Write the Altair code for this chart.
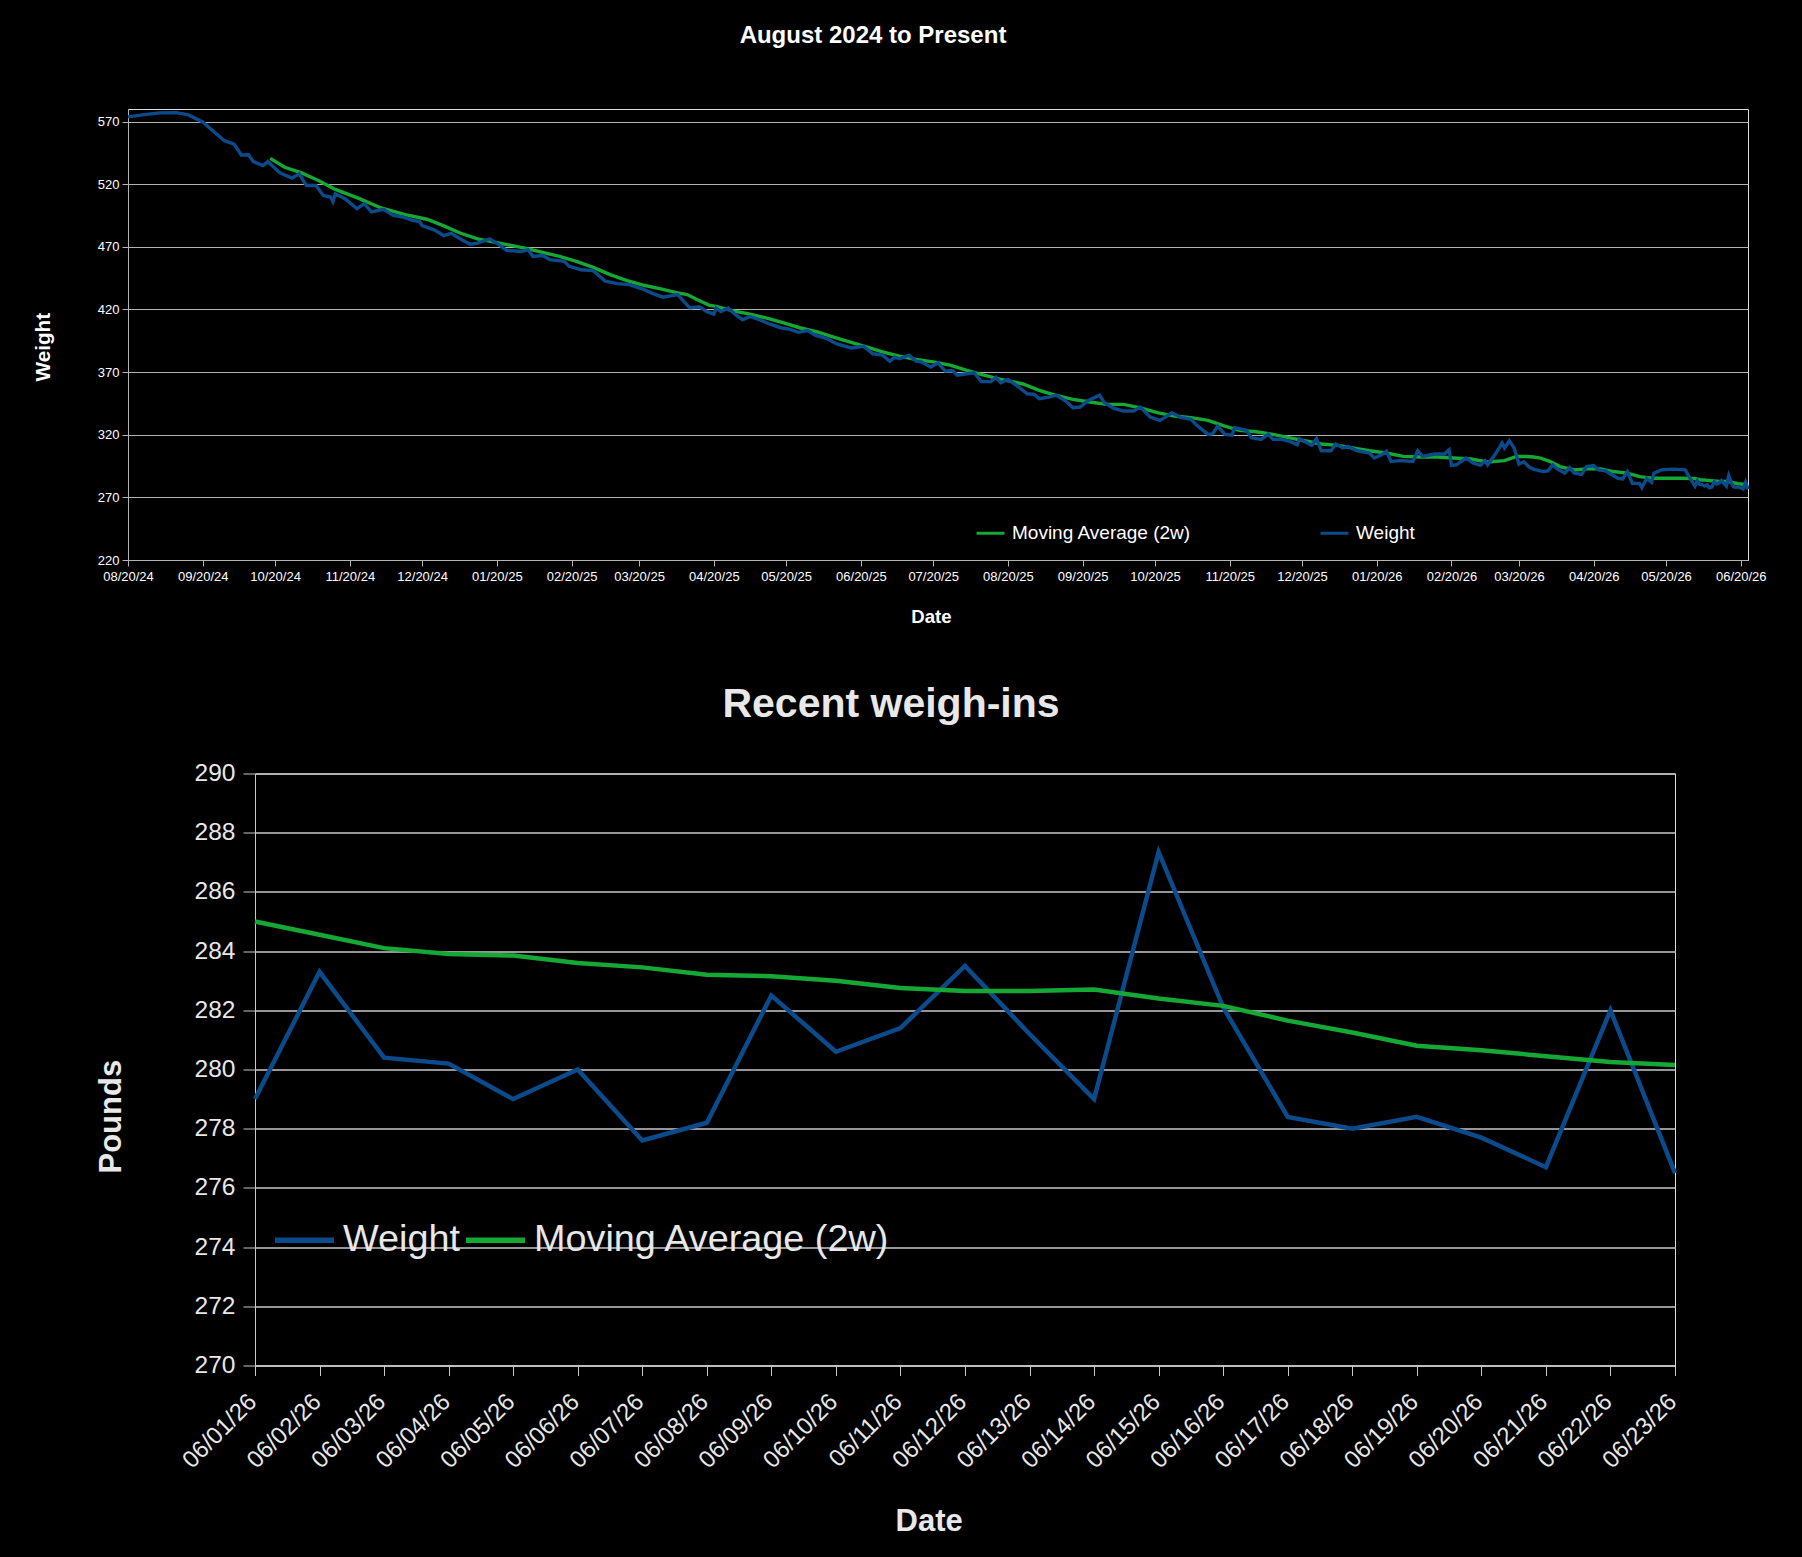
import altair as alt
import pandas as pd

FONT = "Liberation Sans"
BLUE = "#0b4a8b"
GREEN = "#16a835"
GRID = "#b3b3b3"

# ---------------- long-range chart ----------------
# days since 2024-08-20
weight_day = [
    0, 6, 13, 20, 25, 31, 36, 40, 44, 47,
    50, 52, 56, 58, 63, 68, 71, 74, 78, 81,
    84, 85, 86, 90, 95, 98, 101, 106, 110, 114,
    118, 121, 122, 127, 131, 134, 139, 142, 145, 150,
    154, 157, 163, 166, 168, 172, 175, 181, 183, 188,
    193, 198, 203, 208, 213, 217, 222, 228, 233, 237,
    240, 243, 244, 246, 249, 252, 255, 258, 263, 266,
    271, 274, 278, 282, 285, 290, 294, 300, 305, 309,
    313, 316, 318, 320, 324, 327, 329, 333, 336, 339,
    342, 344, 348, 351, 354, 358, 360, 362, 365, 369,
    373, 376, 378, 382, 385, 389, 392, 395, 398, 403,
    405, 409, 413, 417, 420, 424, 428, 430, 433, 437,
    441, 443, 448, 450, 452, 455, 458, 459, 464, 466,
    470, 473, 475, 478, 482, 485, 486, 491, 493, 495,
    499, 501, 504, 506, 510, 515, 517, 520, 522, 524,
    528, 533, 535, 537, 542, 546, 548, 549, 551, 555,
    558, 561, 563, 564, 567, 570, 571, 573, 575, 577,
    579, 581, 583, 587, 589, 591, 593, 596, 598, 600,
    603, 605, 608, 610, 613, 618, 620, 622, 624, 627,
    628, 630, 632, 633, 636, 641, 646, 647,
]
weight_lbs = [
    573.7, 575.3, 576.9, 577.1, 575.3, 569.7, 561.3, 554.7, 552.0, 543.3,
    543.5, 538.0, 534.8, 538.0, 529.0, 524.8, 528.2, 518.9, 518.9, 511.0,
    509.7, 506.0, 512.3, 508.4, 500.4, 504.4, 497.8, 499.9, 495.1, 493.8,
    491.2, 490.1, 486.9, 483.5, 479.0, 480.8, 475.0, 472.1, 472.9, 476.3,
    471.6, 467.1, 466.3, 467.6, 462.3, 463.1, 459.7, 458.4, 454.4, 451.7,
    451.0, 442.5, 440.6, 439.8, 436.7, 433.2, 429.8, 431.9, 421.3, 422.1,
    418.4, 416.3, 421.1, 418.4, 421.1, 415.8, 411.8, 414.4, 411.0, 408.4,
    405.2, 404.4, 401.7, 403.1, 399.4, 396.7, 392.5, 389.3, 390.6, 384.6,
    383.5, 378.7, 381.9, 380.6, 383.5, 378.7, 378.2, 374.0, 377.4, 370.8,
    371.3, 367.6, 368.7, 369.5, 362.4, 362.4, 366.0, 361.5, 364.1, 358.8,
    352.7, 352.2, 348.7, 350.0, 351.6, 346.9, 341.5, 342.1, 346.9, 351.6,
    345.5, 341.0, 338.9, 338.9, 342.1, 334.1, 331.4, 333.6, 337.6, 333.6,
    332.2, 328.2, 320.3, 320.8, 326.9, 320.3, 319.7, 325.6, 323.5, 317.6,
    316.3, 320.3, 316.3, 316.5, 314.7, 312.0, 316.8, 311.5, 316.8, 307.2,
    307.2, 312.6, 309.4, 310.7, 307.2, 305.4, 301.4, 304.0, 306.7, 298.7,
    299.3, 298.7, 307.2, 302.7, 304.6, 304.6, 308.0, 295.5, 296.0, 301.4,
    297.4, 295.5, 299.3, 296.0, 304.0, 313.4, 309.4, 315.2, 309.4, 296.5,
    298.4, 294.6, 292.5, 290.6, 291.1, 295.9, 292.5, 289.3, 293.8, 289.3,
    288.4, 294.6, 295.4, 291.9, 291.1, 285.2, 284.7, 290.6, 281.2, 281.2,
    277.8, 285.2, 282.0, 289.3, 291.9, 292.5, 291.9, 288.4,
]
ma_day = [
    59, 65, 72, 79, 86, 96, 105, 115, 124, 131,
    138, 145, 152, 159, 166, 172, 179, 186, 193, 200,
    207, 214, 221, 228, 232, 236, 241, 244, 251, 258,
    265, 272, 279, 286, 293, 300, 307, 313, 320, 327,
    334, 341, 348, 355, 362, 371, 378, 385, 392, 399,
    406, 413, 420, 427, 434, 441, 448, 455, 461, 468,
    475, 481, 488, 495, 502, 508, 515, 522, 529, 536,
    543, 550, 557, 564, 571, 576, 580, 583, 586, 590,
    594, 600, 605, 611, 616, 622, 627, 633, 638, 644,
]
ma_lbs = [
    540.6, 533.5, 529.0, 522.9, 515.8, 508.4, 501.0, 495.7, 492.0, 486.7,
    480.8, 476.3, 473.7, 471.1, 468.4, 465.5, 462.3, 458.4, 453.6, 447.8,
    443.0, 439.3, 436.4, 433.2, 431.9, 427.9, 423.5, 422.4, 418.9, 416.3,
    413.1, 409.2, 405.2, 402.0, 397.8, 393.8, 389.8, 386.1, 382.7, 380.0,
    378.2, 375.6, 371.3, 367.6, 364.2, 360.7, 355.4, 351.4, 348.2, 346.1,
    344.2, 344.2, 341.5, 337.6, 334.9, 333.6, 331.4, 326.9, 323.5, 322.4,
    320.3, 317.9, 315.2, 312.6, 311.5, 309.4, 307.2, 305.4, 302.7, 302.2,
    302.2, 301.4, 300.6, 298.2, 299.3, 302.7, 302.6, 302.2, 301.3, 298.6,
    294.6, 291.9, 292.7, 292.7, 290.6, 289.3, 286.6, 285.2, 285.2, 285.2,
]
top_ticks = ["08/20/24", "09/20/24", "10/20/24", "11/20/24", "12/20/24",
             "01/20/25", "02/20/25", "03/20/25", "04/20/25", "05/20/25",
             "06/20/25", "07/20/25", "08/20/25", "09/20/25", "10/20/25",
             "11/20/25", "12/20/25", "01/20/26", "02/20/26", "03/20/26",
             "04/20/26", "05/20/26", "06/20/26"]
top_y_ticks = [220, 270, 320, 370, 420, 470, 520, 570]

# ---------------- recent chart ----------------
recent_dates = ["06/01/26", "06/02/26", "06/03/26", "06/04/26", "06/05/26",
                "06/06/26", "06/07/26", "06/08/26", "06/09/26", "06/10/26",
                "06/11/26", "06/12/26", "06/13/26", "06/14/26", "06/15/26",
                "06/16/26", "06/17/26", "06/18/26", "06/19/26", "06/20/26",
                "06/21/26", "06/22/26", "06/23/26"]
recent_weight = [279.0, 283.3, 280.4, 280.2, 279.0, 280.0, 277.6, 278.2,
                 282.5, 280.6, 281.4, 283.5, 281.2, 279.0, 287.35, 282.1,
                 278.4, 278.0, 278.4, 277.7, 276.7, 282.0, 276.5]
recent_ma = [285.0, 284.55, 284.1, 283.9, 283.85, 283.6, 283.45, 283.2,
             283.15, 283.0, 282.75, 282.65, 282.65, 282.7, 282.4, 282.15,
             281.65, 281.25, 280.8, 280.65, 280.45, 280.25, 280.15]
recent_y_ticks = [270, 272, 274, 276, 278, 280, 282, 284, 286, 288, 290]

MA_NAME = "Moving Average (2w)"
W_NAME = "Weight"

# ---------------- build tables ----------------
start = pd.Timestamp("2024-08-20")
recent_ts = [pd.to_datetime(d, format="%m/%d/%y") for d in recent_dates]
ma_dates = [start + pd.Timedelta(days=d) for d in ma_day] + recent_ts
w_dates = [start + pd.Timedelta(days=d) for d in weight_day] + recent_ts
top_df = pd.concat([
    pd.DataFrame({"date": ma_dates, "lbs": ma_lbs + recent_ma, "series": MA_NAME}),
    pd.DataFrame({"date": w_dates, "lbs": weight_lbs + recent_weight, "series": W_NAME}),
], ignore_index=True)

tick_dt = []
for t in top_ticks:
    ts = pd.to_datetime(t, format="%m/%d/%y")
    tick_dt.append(alt.DateTime(year=ts.year, month=ts.month, date=ts.day))

recent_df = pd.concat([
    pd.DataFrame({"day": recent_dates, "lbs": recent_weight, "series": W_NAME}),
    pd.DataFrame({"day": recent_dates, "lbs": recent_ma, "series": MA_NAME}),
], ignore_index=True)

# ---------------- top chart ----------------
top = alt.Chart(top_df).mark_line(strokeWidth=3.4).encode(
    x=alt.X(
        "date:T",
        scale=alt.Scale(domain=[alt.DateTime(year=2024, month=8, date=20),
                                alt.DateTime(year=2026, month=6, date=23)]),
        axis=alt.Axis(values=tick_dt, format="%m/%d/%y", labelAngle=0,
                      labelFontSize=13, labelColor="white", labelFont=FONT,
                      labelFlush=False, labelOverlap=False, labelPadding=4,
                      tickColor=GRID, tickSize=6, domainColor=GRID, grid=False,
                      title="Date", titleFont=FONT, titleFontSize=18.6,
                      titleFontWeight="bold", titleColor="white",
                      titleX=803, titleY=56.5, titleBaseline="middle",
                      titleAlign="center"),
    ),
    y=alt.Y(
        "lbs:Q",
        scale=alt.Scale(domain=[220, 580], nice=False, zero=False),
        axis=alt.Axis(values=top_y_ticks, labelFontSize=13, labelColor="white",
                      labelFont=FONT, labelPadding=3, tickColor=GRID, tickSize=6,
                      domainColor=GRID, grid=True, gridColor=GRID, gridWidth=1,
                      title="Weight", titleFont=FONT, titleFontSize=20.7,
                      titleFontWeight="bold", titleColor="white",
                      titleAngle=270, titleX=-85, titleY=237.7,
                      titleBaseline="middle", titleAlign="center"),
    ),
    color=alt.Color(
        "series:N",
        sort=[MA_NAME, W_NAME],
        scale=alt.Scale(domain=[MA_NAME, W_NAME], range=[GREEN, BLUE]),
        legend=alt.Legend(title=None, orient="none", legendX=847, legendY=408.5,
                          direction="horizontal", columns=2, columnPadding=122,
                          symbolType="stroke", symbolSize=784,
                          symbolStrokeWidth=3, labelFontSize=19, labelLimit=0,
                          labelColor="white", labelFont=FONT, labelOffset=6,
                          padding=0),
    ),
).properties(
    width=1620, height=451,
    title=alt.TitleParams("August 2024 to Present", font=FONT, fontSize=24,
                          fontWeight="bold", color="white", anchor="middle",
                          frame="group", dx=-65, offset=38.7,
                          baseline="alphabetic"),
)

# ---------------- bottom chart ----------------
LIGHT = "#e8e8e8"
GRID2 = "#c8c8c8"
bottom = alt.Chart(recent_df).mark_line(strokeWidth=4.5).encode(
    x=alt.X(
        "day:O", sort=None,
        scale=alt.Scale(type="point", padding=0),
        axis=alt.Axis(labelAngle=315, labelFontSize=24, labelColor=LIGHT,
                      labelFont=FONT, labelPadding=14, labelOffset=-11,
                      tickColor=GRID2, tickSize=10, domainColor=GRID2, grid=False,
                      title="Date", titleFont=FONT, titleFontSize=31,
                      titleFontWeight="bold", titleColor=LIGHT,
                      titleX=673.6, titleY=156, titleBaseline="middle",
                      titleAlign="center"),
    ),
    y=alt.Y(
        "lbs:Q",
        scale=alt.Scale(domain=[270, 290], nice=False, zero=False),
        axis=alt.Axis(values=recent_y_ticks, labelFontSize=24.5, labelColor=LIGHT,
                      labelFont=FONT, labelPadding=8, tickColor=GRID2, tickSize=12,
                      domainColor=GRID2, grid=True, gridColor=GRID2, gridWidth=1.5,
                      title="Pounds", titleFont=FONT, titleFontSize=31,
                      titleFontWeight="bold", titleColor=LIGHT, titleAngle=270,
                      titleX=-143.5, titleY=342.7, titleBaseline="middle",
                      titleAlign="center"),
    ),
    color=alt.Color(
        "series:N",
        sort=[W_NAME, MA_NAME],
        scale=alt.Scale(domain=[W_NAME, MA_NAME], range=[BLUE, GREEN]),
        legend=alt.Legend(title=None, orient="none", legendX=144, legendY=434,
                          direction="horizontal", columns=2, columnPadding=-6,
                          symbolType="stroke", symbolSize=3500,
                          symbolStrokeWidth=5.5, labelFontSize=37.8, labelLimit=0,
                          labelColor=LIGHT, labelFont=FONT, labelOffset=6,
                          padding=0),
    ),
).properties(
    width=1420, height=592,
    title=alt.TitleParams("Recent weigh-ins", font=FONT, fontSize=41,
                          fontWeight="bold", color=LIGHT, anchor="middle",
                          frame="group", dx=-74, offset=3,
                          baseline="alphabetic"),
)

spacer = alt.Chart(pd.DataFrame({"s": [0]})).mark_point(opacity=0).encode(
    x=alt.value(0), y=alt.value(0)
).properties(width=127, height=592, view=alt.ViewBackground(stroke="transparent"))

lower = alt.hconcat(spacer, bottom, spacing=0, bounds="flush")

chart = alt.vconcat(top, lower, spacing=213.5, bounds="flush").resolve_scale(
    color="independent"
).properties(
    padding={"left": 23, "top": 15, "right": 5, "bottom": 5},
    background="black",
).configure_view(stroke=GRID, strokeWidth=1).configure(font=FONT)

# black page behind the chart (the reference has no white margin)
_patched = False
try:
    import altair.utils.html as _html
    _tpl = _html.TEMPLATES["standard"]
    _orig_render = _tpl.render

    def _render(*args, **kwargs):
        out = _orig_render(*args, **kwargs)
        return out.replace("</head>", "<style>html,body{background:#000;}</style>\n</head>", 1)

    _tpl.render = _render
    _patched = True
except Exception:
    _patched = False

try:
    chart.save("out.html", embed_options={"renderer": "svg", "actions": False})
except Exception:
    if _patched:
        _tpl.render = _orig_render
    chart.save("out.html", embed_options={"renderer": "svg", "actions": False})
